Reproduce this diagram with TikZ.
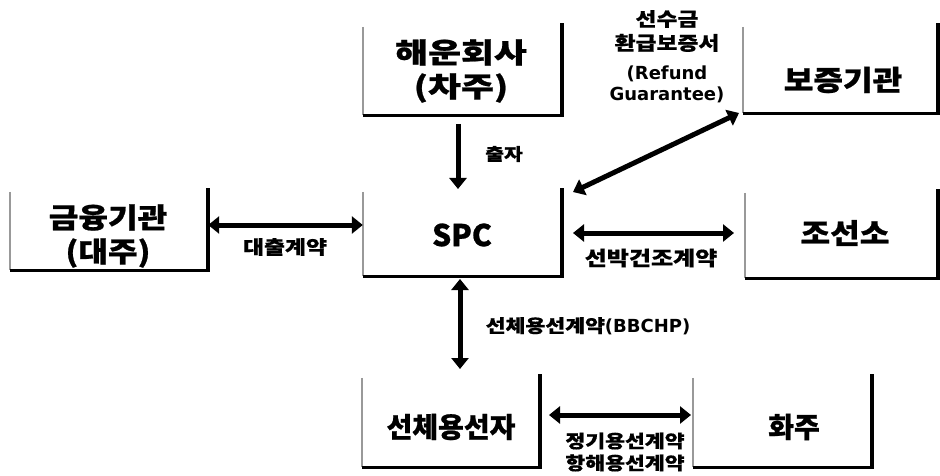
\documentclass[tikz,border=0pt]{standalone}
\usepackage{fontspec}
\setmainfont{Noto Sans CJK KR}
\newfontfamily\krA{Noto Sans CJK KR}[FakeStretch=1.28,FakeBold=0.8]
\newfontfamily\krB{Noto Sans CJK KR}[FakeStretch=1.15,FakeBold=0.8]
\newfontfamily\krN{Noto Sans CJK KR}[FakeBold=0.8]
\newfontfamily\krC{Noto Sans CJK KR}[FakeStretch=1.2,FakeBold=0.6]
\newfontfamily\lat{DejaVu Sans}
\usetikzlibrary{arrows.meta}
\begin{document}
\begin{tikzpicture}[x=1pt,y=-1pt,
  frame/.style={inner sep=0pt, minimum width=#1},
  btxt/.style={inner sep=0pt, font=\krB\bfseries\fontsize{28}{34}\selectfont, align=center},
  lab/.style={inner sep=0pt, font=\krC\bfseries\fontsize{18}{22}\selectfont, align=center},
  tip/.tip={Triangle[width=17pt,length=11pt]},
  arr/.style={line width=5pt, -tip},
  darr/.style={line width=5pt, tip-tip},
  ledge/.style={draw=black!40, line width=1.4pt},
  bedge/.style={draw=black, line width=3pt},
  redge/.style={draw=black, line width=4.5pt}
]
\useasboundingbox[fill=white] (0,0) rectangle (940,476);

% frames
\node[frame=199pt, minimum height=88pt] (hw)  at (462.5,71) {};
\node[frame=195pt, minimum height=86pt] (bz)  at (840.5,70) {};
\node[frame=198pt, minimum height=78pt] (gy)  at (109,231) {};
\node[frame=199pt, minimum height=84pt] (spc) at (462.5,234) {};
\node[frame=193pt, minimum height=85pt] (js)  at (841.5,235.5) {};
\node[frame=178pt, minimum height=89pt] (sc)  at (451,422.5) {};
\node[frame=179pt, minimum height=89pt] (hj)  at (782.5,422.5) {};

\foreach \n in {hw,bz,gy,spc,js,sc,hj}{
  \draw[ledge] (\n.north west) -- (\n.south west);
  \draw[bedge] (\n.south west) -- ([xshift=2pt]\n.south east);
  \draw[redge] ([yshift=1.5pt]\n.south east) -- ([yshift=4pt]\n.north east);
}

% box texts
\node[btxt, font=\krA\bfseries\fontsize{28}{34}\selectfont] (thw) at (461,71) {해운회사\\(차주)};
\node[btxt] (tbz)  at (843,80)  {보증기관};
\node[btxt] (tgy)  at (108,236) {금융기관\\(대주)};
\node[btxt, font=\krN\bfseries\fontsize{30}{34}\selectfont] (tspc) at (462,235) {SPC};
\node[btxt] (tjs)  at (845,233) {조선소};
\node[btxt, font=\krN\bfseries\fontsize{28}{34}\selectfont] (tsc)  at (451,427) {선체용선자};
\node[btxt, font=\krN\bfseries\fontsize{28}{34}\selectfont] (thj)  at (794,427) {화주};

% connectors
\coordinate (a1) at (458,124);
\coordinate (a2) at (458,189);
\draw[arr] (a1) -- (a2);
\draw[darr] (gy.east |- 0,225) -- (spc.west |- 0,225);
\coordinate (r1) at (573,192);
\coordinate (r2) at (739,113);
\draw[darr] (r1) -- (r2);
\coordinate (s1) at (573,233);
\coordinate (s2) at (734,233);
\draw[darr] (s1) -- (s2);
\coordinate (b1) at (460,279);
\coordinate (b2) at (460,369);
\draw[darr] (b1) -- (b2);
\coordinate (c1) at (549,415);
\coordinate (c2) at (691,415);
\draw[darr] (c1) -- (c2);

% labels
\node[lab, font=\krC\bfseries\fontsize{17}{18}\selectfont] (l1) at (504,154) {출자};
\node[lab, font=\krC\bfseries\fontsize{19}{22}\selectfont] (l2) at (285,247) {대출계약};
\node[lab, font=\krC\bfseries\fontsize{19}{24}\selectfont] (l3a) at (667,31) {선수금\\환급보증서};
\node[lab, font=\lat\bfseries\fontsize{18}{21}\selectfont] (l3b) at (667,84) {(Refund\\Guarantee)};
\node[lab, font=\krC\bfseries\fontsize{20}{23}\selectfont] (l4) at (651,258) {선박건조계약};
\node[lab, font=\krC\bfseries\fontsize{18}{21}\selectfont] (l5) at (588,326) {선체용선계약{\lat\fontsize{18}{21}\selectfont(BBCHP)}};
\node[lab, font=\krC\bfseries\fontsize{18}{22}\selectfont] (l6) at (625,452) {정기용선계약\\항해용선계약};
\end{tikzpicture}
\end{document}
